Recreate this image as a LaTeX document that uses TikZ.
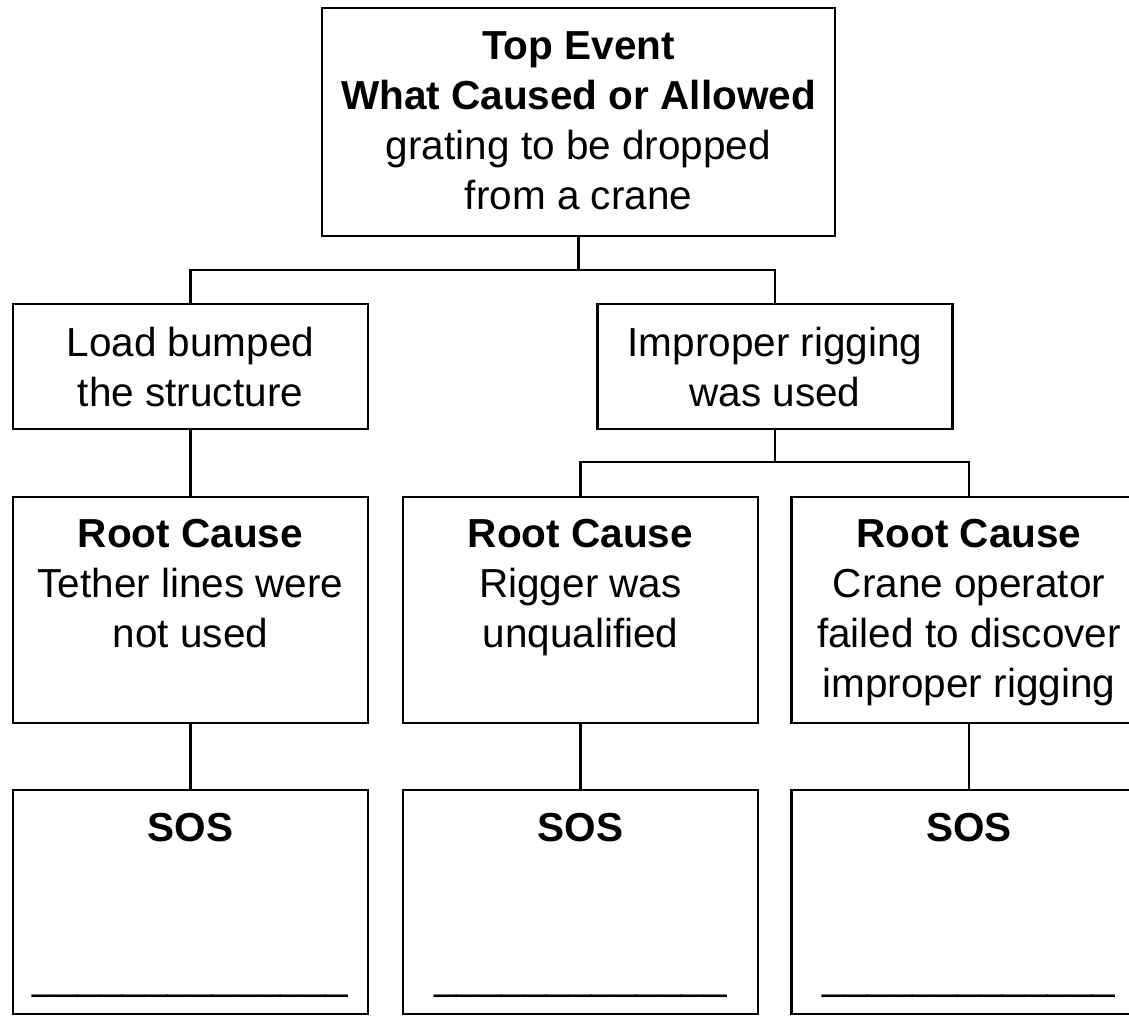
\documentclass[tikz,border=0pt]{standalone}
\usepackage{fontspec}
\setmainfont{Liberation Sans}
\usetikzlibrary{positioning}
\begin{document}
\begin{tikzpicture}
  [x=1pt,y=-1pt,
   box/.style={draw,line width=2.5pt,inner sep=0pt,outer sep=0pt,minimum width=355pt},
   txt/.style={align=center,inner sep=0pt,font=\fontsize{40.5}{50}\selectfont},
   link/.style={draw,line width=2.5pt}]
  \useasboundingbox (0,0) rectangle (1129,1017);
  % boxes
  \node[box,minimum width=513pt,minimum height=228pt] (T) at (578.5,122) {};
  \node[box,minimum height=125pt] (A) at (190.5,366.5) {};
  \node[box,minimum height=125pt] (B) at (775,366.5) {};
  \node[box,minimum height=226pt] (C) at (190.5,610) {};
  \node[box,minimum height=226pt] (D) at (580.5,610) {};
  \node[box,minimum height=226pt] (E) at (969,610) {};
  \node[box,minimum height=224pt] (F) at (190.5,902) {};
  \node[box,minimum height=224pt] (G) at (580.5,902) {};
  \node[box,minimum height=224pt] (H) at (969,902) {};
  % texts
  \node[txt,below=23pt of T.north] (tT) {\textbf{Top Event}\\\textbf{What Caused or Allowed}\\grating to be dropped\\from a crane};
  \node[txt,below=23pt of A.north] (tA) {Load bumped\\the structure};
  \node[txt,below=23pt of B.north] (tB) {Improper rigging\\was used};
  \node[txt,below=22.5pt of C.north] (tC) {\textbf{Root Cause}\\Tether lines were\\not used};
  \node[txt,below=22.5pt of D.north] (tD) {\textbf{Root Cause}\\Rigger was\\unqualified};
  \node[txt,below=22.5pt of E.north] (tE) {\textbf{Root Cause}\\Crane operator\\failed to discover\\improper rigging};
  \node[txt,below=23pt of F.north] (tF) {\textbf{SOS}};
  \node[txt,below=23pt of G.north] (tG) {\textbf{SOS}};
  \node[txt,below=23pt of H.north] (tH) {\textbf{SOS}};
  \node[txt,anchor=base] (uF) at ([yshift=25pt]F.south) {\_\_\_\_\_\_\_\_\_\_\_\_\_\_};
  \node[txt,anchor=base] (uG) at ([yshift=25pt]G.south) {\_\_\_\_\_\_\_\_\_\_\_\_\_};
  \node[txt,anchor=base] (uH) at ([yshift=25pt]H.south) {\_\_\_\_\_\_\_\_\_\_\_\_\_};
  % connectors
  \draw[link] (T.south) -- ++(0,34) coordinate (j1);
  \draw[link] (A.north) |- (j1) -| (B.north);
  \draw[link] (B.south) -- ++(0,33) coordinate (j2);
  \draw[link] (D.north) |- (j2) -| (E.north);
  \draw[link] (A.south) -- (C.north);
  \draw[link] (C.south) -- (F.north);
  \draw[link] (D.south) -- (G.north);
  \draw[link] (E.south) -- (H.north);
\end{tikzpicture}
\end{document}
